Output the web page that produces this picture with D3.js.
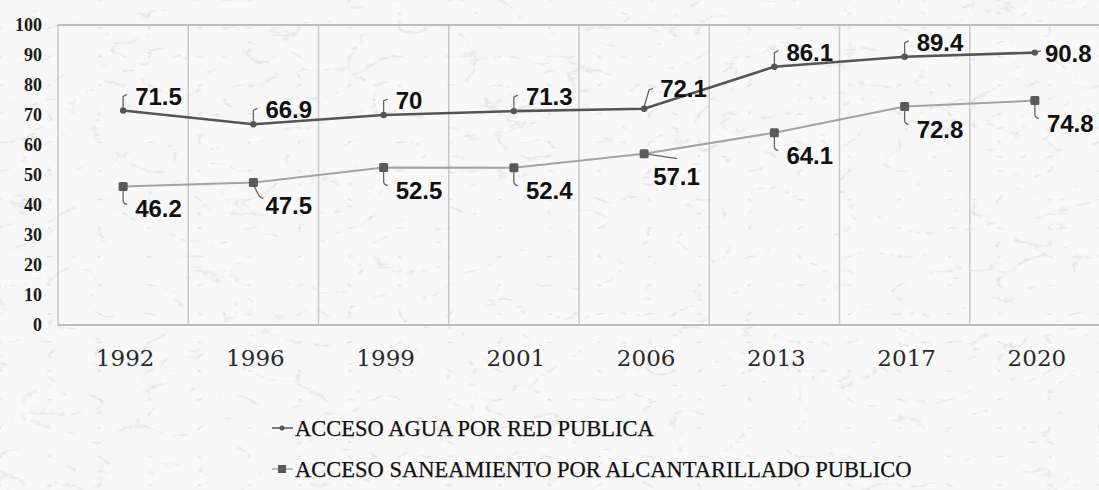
<!DOCTYPE html>
<html>
<head>
<meta charset="utf-8">
<script src="https://cdn.jsdelivr.net/npm/d3@7"></script>
<style>
  body { margin: 0; background: #fff; }
  svg { display: block; }
</style>
</head>
<body>
<svg width="1099" height="490"></svg>
<script>
// data
var years = ["1992", "1996", "1999", "2001", "2006", "2013", "2017", "2020"];
var agua = [71.5, 66.9, 70, 71.3, 72.1, 86.1, 89.4, 90.8];
var saneamiento = [46.2, 47.5, 52.5, 52.4, 57.1, 64.1, 72.8, 74.8];
var yTicks = [0, 10, 20, 30, 40, 50, 60, 70, 80, 90, 100];
var seriesNames = ["ACCESO AGUA POR RED PUBLICA", "ACCESO SANEAMIENTO POR ALCANTARILLADO PUBLICO"];

var svg = d3.select("svg"),
    width = +svg.attr("width"),
    height = +svg.attr("height");

// marble-ish background: thin light veins
var defs = svg.append("defs");
var f = defs.append("filter").attr("id", "marble")
    .attr("x", 0).attr("y", 0).attr("width", "100%").attr("height", "100%");
f.append("feTurbulence").attr("type", "turbulence")
    .attr("baseFrequency", "0.02 0.035").attr("numOctaves", 4).attr("seed", 11);
f.append("feColorMatrix").attr("type", "matrix")
    .attr("values", "0 0 0 0 0.62  0 0 0 0 0.62  0 0 0 0 0.64  -4 0 0 0 0.55");
svg.append("rect").attr("width", width).attr("height", height).attr("fill", "#f8f8f8");
svg.append("rect").attr("width", width).attr("height", height).attr("filter", "url(#marble)");

var x = d3.scaleBand().domain(years).range([58, 1100]);
var y = d3.scaleLinear().domain([0, 100]).range([325, 25]);
var cx = d => x(d) + x.bandwidth() / 2;

// grid
var grid = svg.append("g");
grid.selectAll("line.v")
    .data(years)
    .join("line")
    .attr("x1", d => x(d)).attr("x2", d => x(d))
    .attr("y1", y(100)).attr("y2", y(0))
    .attr("stroke", "#c9c9c9").attr("stroke-width", 1.5);
grid.append("line")
    .attr("x1", 58).attr("x2", width).attr("y1", y(100)).attr("y2", y(100))
    .attr("stroke", "#bdbdbd").attr("stroke-width", 2);
grid.append("line")
    .attr("x1", 58).attr("x2", width).attr("y1", y(0)).attr("y2", y(0))
    .attr("stroke", "#bdbdbd").attr("stroke-width", 2);

// y axis labels
svg.append("g")
    .attr("transform", "translate(42,0)")
    .call(d3.axisLeft(y).tickValues(yTicks).tickSize(0).tickPadding(0))
    .call(g => g.select(".domain").remove())
    .selectAll("text")
    .attr("font-family", "Liberation Serif")
    .attr("font-weight", "bold")
    .attr("font-size", 18)
    .attr("fill", "#1a1a1a");

// x axis labels
svg.append("g")
    .attr("transform", "translate(2,350)")
    .call(d3.axisBottom(x).tickSize(0).tickPadding(0))
    .call(g => g.select(".domain").remove())
    .selectAll("text")
    .attr("font-family", "DejaVu Serif")
    .attr("font-size", 23)
    .attr("fill", "#2a2a2a");

var line = d3.line().x((d, i) => cx(years[i])).y(d => y(d));

// sanitation series
svg.append("path").datum(saneamiento)
    .attr("d", line).attr("fill", "none")
    .attr("stroke", "#a3a3a3").attr("stroke-width", 2);

// water series
svg.append("path").datum(agua)
    .attr("d", line).attr("fill", "none")
    .attr("stroke", "#555").attr("stroke-width", 2.6);

// leader lines
var leaders = svg.append("g").attr("fill", "none").attr("stroke", "#666").attr("stroke-width", 1.3);
agua.forEach(function (v, i) {
    var px = cx(years[i]), py = y(v);
    var d;
    if (years[i] === "2006") d = `M${px},${py - 2} L${px + 5},${py - 19} L${px + 9},${py - 20}`;
    else if (years[i] === "2020") d = `M${px},${py} L${px + 6},${py - 2}`;
    else d = `M${px},${py - 2} L${px},${py - 14} L${px + 4},${py - 16}`;
    leaders.append("path").attr("d", d);
});
saneamiento.forEach(function (v, i) {
    var px = cx(years[i]), py = y(v);
    var d;
    if (years[i] === "2006") d = `M${px},${py} L${px + 33},${py + 5}`;
    else if (years[i] === "1996") d = `M${px},${py + 2} L${px + 5},${py + 12} Q${px + 7},${py + 16} ${px + 10},${py + 16}`;
    else d = `M${px},${py + 2} L${px},${py + 14} Q${px},${py + 17} ${px + 4},${py + 18}`;
    leaders.append("path").attr("d", d);
});

// markers
svg.append("g").selectAll("circle")
    .data(agua).join("circle")
    .attr("cx", (d, i) => cx(years[i])).attr("cy", d => y(d))
    .attr("r", 3.2).attr("fill", "#555");
svg.append("g").selectAll("rect")
    .data(saneamiento).join("rect")
    .attr("x", (d, i) => cx(years[i]) - 4.5).attr("y", d => y(d) - 4.5)
    .attr("width", 9).attr("height", 9).attr("rx", 1.5)
    .attr("fill", "#5a5a5a");

// value labels
var fmt = d => String(d);
svg.append("g").selectAll("text")
    .data(agua).join("text")
    .attr("x", (d, i) => cx(years[i]) + (years[i] === "2006" ? 16 : years[i] === "2020" ? 10 : 12))
    .attr("y", (d, i) => y(d) + (years[i] === "2006" ? -12 : years[i] === "2020" ? 9 : -6))
    .attr("font-family", "Liberation Sans").attr("font-weight", "bold")
    .attr("font-size", 24).attr("fill", "#111")
    .text(fmt);
svg.append("g").selectAll("text")
    .data(saneamiento).join("text")
    .attr("x", (d, i) => cx(years[i]) + (years[i] === "2006" ? 9 : 12))
    .attr("y", d => y(d) + 31)
    .attr("font-family", "Liberation Sans").attr("font-weight", "bold")
    .attr("font-size", 24).attr("fill", "#111")
    .text(fmt);

// legend
var lg = svg.append("g").attr("font-family", "Liberation Serif").attr("font-size", 22.5)
    .attr("fill", "#111").attr("stroke", "#111").attr("stroke-width", 0.25);
lg.append("line").attr("x1", 272).attr("x2", 293).attr("y1", 428).attr("y2", 428)
    .attr("stroke", "#555").attr("stroke-width", 1.5);
lg.append("circle").attr("cx", 282).attr("cy", 428).attr("r", 2.5).attr("fill", "#555").attr("stroke", "none");
lg.append("text").attr("x", 295).attr("y", 436).text(seriesNames[0]);
lg.append("line").attr("x1", 272).attr("x2", 293).attr("y1", 469).attr("y2", 469)
    .attr("stroke", "#aaa").attr("stroke-width", 1.5);
lg.append("rect").attr("x", 278).attr("y", 465).attr("width", 8).attr("height", 8)
    .attr("fill", "#5a5a5a").attr("stroke", "none");
lg.append("text").attr("x", 295).attr("y", 477).text(seriesNames[1]);
</script>
</body>
</html>
